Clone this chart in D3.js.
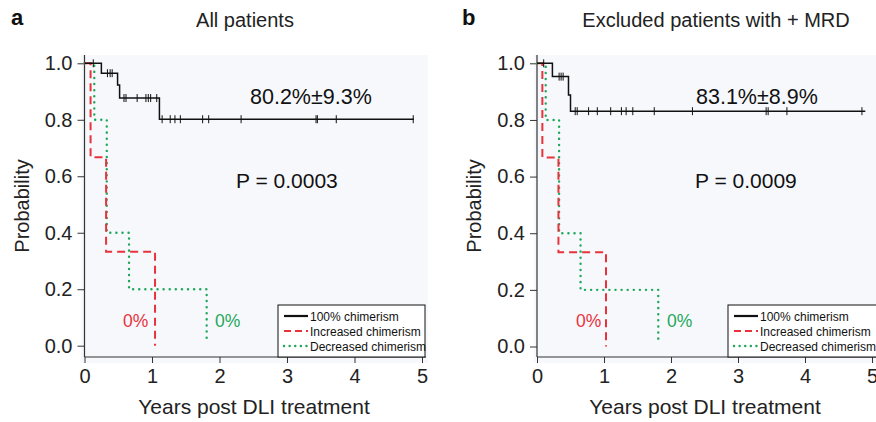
<!DOCTYPE html>
<html>
<head>
<meta charset="utf-8">
<script src="https://cdn.jsdelivr.net/npm/d3@7"></script>
<style>
body { margin: 0; background: #fff; }
svg { font-family: "Liberation Sans", Arial, sans-serif; }
</style>
</head>
<body>
<svg id="fig" width="876" height="422"></svg>
<script>
// Kaplan-Meier step data (time in years, survival probability after the step)
const xTicks = [0, 1, 2, 3, 4, 5];
const yTicks = [0, 0.2, 0.4, 0.6, 0.8, 1.0];

const aFullT = [0, 0.25, 0.49, 0.52, 1.11, 4.88];
const aFullS = [1, 0.965, 0.923, 0.877, 0.802, 0.802];
const aFullCens = [0.13, 0.34, 0.38, 0.41, 0.585, 0.615, 0.78, 0.91, 0.945, 0.98, 1.07,
  1.15, 1.27, 1.34, 1.42, 1.75, 1.84, 2.32, 3.43, 3.45, 3.73, 4.87];
const aIncT = [0, 0.09, 0.32, 1.045];
const aIncS = [1, 0.667, 0.333, 0];
const aDecT = [0, 0.145, 0.33, 0.66, 1.81];
const aDecS = [1, 0.8, 0.4, 0.2, 0.01];

const bFullT = [0, 0.23, 0.47, 0.50, 4.9];
const bFullS = [1, 0.953, 0.888, 0.831, 0.831];
const bFullCens = [0.1, 0.33, 0.36, 0.39, 0.57, 0.60, 0.77, 0.90, 1.10, 1.26, 1.33, 1.43,
  1.75, 2.32, 3.42, 3.45, 3.73, 4.85];
const bIncT = [0, 0.08, 0.32, 1.03];
const bIncS = [1, 0.667, 0.333, 0];
const bDecT = [0, 0.13, 0.33, 0.65, 1.81];
const bDecS = [1, 0.8, 0.4, 0.2, 0.01];

const legendLabels = ["100% chimerism", "Increased chimerism", "Decreased chimerism"];
const RED = "#e8333c", GREEN = "#1fa85a", BLACK = "#111";

const svg = d3.select("#fig");

function stepAt(T, S, t) {
  let s = S[0];
  for (let i = 0; i < T.length; i++) if (T[i] <= t) s = S[i];
  return s;
}

function panel(opt) {
  const x = d3.scaleLinear().domain([0, 5]).range([opt.x0, opt.x1]);
  const y = d3.scaleLinear().domain([0, 1]).range([opt.y0, opt.y1]);
  const g = svg.append("g");

  // light plot background
  g.append("rect")
    .attr("x", opt.x0 - 3).attr("y", 55)
    .attr("width", opt.bgRight - opt.x0 + 3).attr("height", 308)
    .attr("fill", "#f7f8fc");

  // y axis
  const yAx = g.append("g").attr("transform", `translate(${opt.x0},0)`)
    .call(d3.axisLeft(y).tickValues(yTicks).tickFormat(d3.format(".1f")).tickSize(7).tickPadding(5));
  yAx.select(".domain").remove();
  yAx.selectAll("line").attr("stroke", "#333");
  yAx.selectAll("text").attr("font-size", 20).attr("fill", "#222").attr("font-family", "Liberation Sans, Arial");
  g.append("line").attr("x1", opt.x0).attr("x2", opt.x0).attr("y1", 55).attr("y2", 357)
    .attr("stroke", "#333").attr("stroke-width", 1.2);

  // x axis
  const xAx = g.append("g").attr("transform", `translate(0,357)`)
    .call(d3.axisBottom(x).tickValues(xTicks).tickFormat(d3.format("d")).tickSize(6).tickPadding(6));
  xAx.select(".domain").remove();
  xAx.selectAll("line").attr("stroke", "#333");
  xAx.selectAll("text").attr("font-size", 20).attr("fill", "#222").attr("font-family", "Liberation Sans, Arial");
  g.append("line").attr("x1", opt.x0).attr("x2", opt.axRight).attr("y1", 357).attr("y2", 357)
    .attr("stroke", "#333").attr("stroke-width", 1.2);

  const line = d3.line().x(d => x(d[0])).y(d => y(d[1])).curve(d3.curveStepAfter);
  const pts = (T, S) => T.map((t, i) => [t, S[i]]);

  g.append("path").attr("d", line(pts(opt.decT, opt.decS)))
    .attr("fill", "none").attr("stroke", GREEN).attr("stroke-width", 2.4)
    .attr("stroke-dasharray", "0.1,6").attr("stroke-linecap", "round");
  g.append("path").attr("d", line(pts(opt.incT, opt.incS)))
    .attr("fill", "none").attr("stroke", RED).attr("stroke-width", 2)
    .attr("stroke-dasharray", "8,5");
  g.append("path").attr("d", line(pts(opt.fullT, opt.fullS)))
    .attr("fill", "none").attr("stroke", BLACK).attr("stroke-width", 1.5);

  // censor marks
  g.selectAll(".cens").data(opt.cens).join("line")
    .attr("x1", d => x(d)).attr("x2", d => x(d))
    .attr("y1", d => y(stepAt(opt.fullT, opt.fullS, d)) - 4)
    .attr("y2", d => y(stepAt(opt.fullT, opt.fullS, d)) + 4)
    .attr("stroke", BLACK).attr("stroke-width", 1);

  // annotations
  g.append("text").attr("x", opt.survX).attr("y", 104).attr("font-size", 21.5).attr("fill", "#111")
    .text(opt.survText);
  g.append("text").attr("x", opt.pX).attr("y", 188).attr("font-size", 21).attr("fill", "#111")
    .text(opt.pText);
  g.append("text").attr("x", opt.red0X).attr("y", 327).attr("font-size", 17.5).attr("fill", RED).text("0%");
  g.append("text").attr("x", opt.green0X).attr("y", 327).attr("font-size", 17.5).attr("fill", GREEN).text("0%");

  // legend
  const lg = g.append("g").attr("transform", `translate(${opt.legX},305)`);
  lg.append("rect").attr("width", opt.legW).attr("height", 52)
    .attr("fill", "#fff").attr("stroke", "#111").attr("stroke-width", 1);
  const styles = [
    {c: BLACK, dash: null, w: 2.2},
    {c: RED, dash: "7,4", w: 2.2},
    {c: GREEN, dash: "0.1,5.5", w: 2.4}
  ];
  const items = lg.selectAll(".li").data(legendLabels).join("g")
    .attr("transform", (d, i) => `translate(0,${11 + i * 15})`);
  items.append("line").attr("x1", 6).attr("x2", 30).attr("y1", 0).attr("y2", 0)
    .attr("stroke", (d, i) => styles[i].c).attr("stroke-width", (d, i) => styles[i].w)
    .attr("stroke-dasharray", (d, i) => styles[i].dash).attr("stroke-linecap", (d, i) => i === 2 ? "round" : "butt");
  items.append("text").attr("x", 32).attr("y", 4.5).attr("font-size", 12).attr("fill", "#111").text(d => d);

  // axis titles
  g.append("text").attr("transform", `translate(${opt.x0 - 56},206) rotate(-90)`)
    .attr("text-anchor", "middle").attr("font-size", 20).attr("fill", "#222").text("Probability");
  g.append("text").attr("x", opt.titleXC).attr("y", 414).attr("text-anchor", "middle")
    .attr("font-size", 21).attr("fill", "#222").text("Years post DLI treatment");

  // panel letter + title
  g.append("text").attr("x", opt.letterX).attr("y", 25).attr("font-size", 22).attr("font-weight", "bold")
    .attr("fill", "#111").text(opt.letter);
  g.append("text").attr("x", opt.headX).attr("y", 27).attr("text-anchor", "middle")
    .attr("font-size", 20).attr("fill", "#222").text(opt.head);
}

panel({
  x0: 84.5, x1: 422, y0: 345.7, y1: 63.3, bgRight: 428, axRight: 426,
  fullT: aFullT, fullS: aFullS, cens: aFullCens, incT: aIncT, incS: aIncS, decT: aDecT, decS: aDecS,
  survX: 250, survText: "80.2%\u00b19.3%", pX: 236, pText: "P = 0.0003",
  red0X: 123, green0X: 215, legX: 278, legW: 147, titleXC: 254,
  letter: "a", letterX: 11, head: "All patients", headX: 245
});

panel({
  x0: 537, x1: 872, y0: 346.5, y1: 63.3, bgRight: 876, axRight: 876,
  fullT: bFullT, fullS: bFullS, cens: bFullCens, incT: bIncT, incS: bIncS, decT: bDecT, decS: bDecS,
  survX: 696, survText: "83.1%\u00b18.9%", pX: 695, pText: "P = 0.0009",
  red0X: 576, green0X: 667, legX: 728, legW: 160, titleXC: 705,
  letter: "b", letterX: 462, head: "Excluded patients with + MRD", headX: 716
});
</script>
</body>
</html>
